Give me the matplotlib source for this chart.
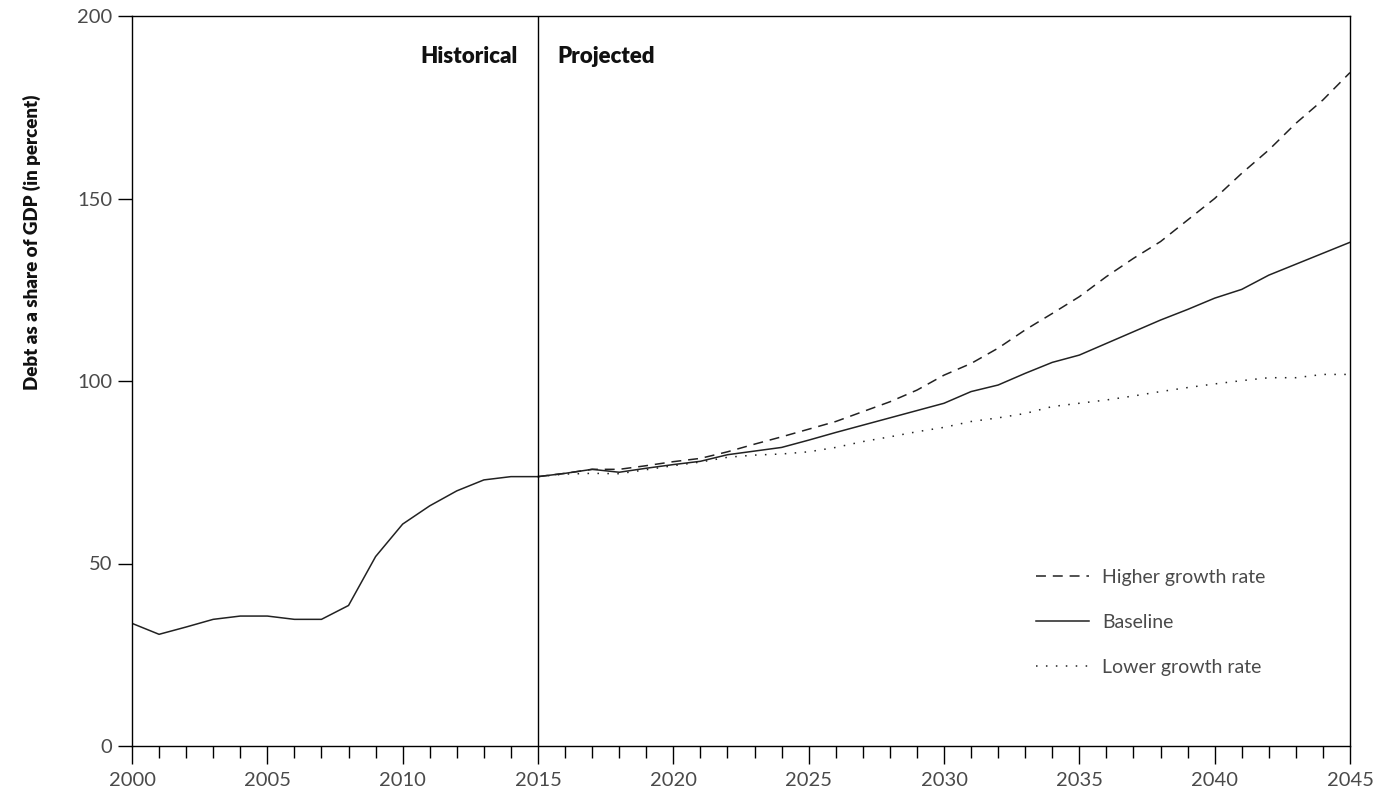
import matplotlib
matplotlib.use("Agg")
import matplotlib.pyplot as plt
from matplotlib.ticker import MultipleLocator

plt.rcParams['font.family'] = ['Lato', 'DejaVu Sans']

hist_years = list(range(2000, 2016))
hist_debt = [33.6, 30.6, 32.6, 34.7, 35.6, 35.6, 34.7, 34.7, 38.5, 51.9,
             60.8, 65.8, 69.9, 72.9, 73.8, 73.8]

proj_years = list(range(2015, 2046))
higher = [73.8, 74.7, 75.8, 75.8, 76.8, 77.9, 78.8, 80.6, 82.7, 84.7,
          86.8, 88.9, 91.6, 94.3, 97.5, 101.6, 104.8, 109.0, 114.0, 118.5,
          123.1, 128.6, 133.6, 138.2, 144.1, 150.0, 156.9, 163.3, 170.6, 177.0,
          184.5]
baseline = [73.8, 74.7, 75.8, 75.0, 76.1, 77.1, 78.0, 79.8, 80.8, 81.8,
            83.8, 85.9, 87.9, 89.9, 91.9, 93.9, 97.1, 98.9, 102.1, 105.1,
            107.1, 110.3, 113.5, 116.7, 119.6, 122.7, 125.1, 129.0, 132.0, 135.0,
            138.0]
lower = [73.8, 74.5, 74.7, 74.6, 75.7, 76.8, 77.8, 79.1, 79.7, 80.0,
         80.6, 81.8, 83.4, 84.7, 86.1, 87.3, 88.9, 89.9, 91.1, 93.0,
         93.9, 94.8, 95.9, 97.1, 98.2, 99.2, 100.1, 100.9, 100.9, 101.8,
         101.8]

divider_year = 2015
y_ticks = [0, 50, 100, 150, 200]
x_ticks = [2000, 2005, 2010, 2015, 2020, 2025, 2030, 2035, 2040, 2045]

line_color = '#222222'
text_color = '#4a4a4a'
fig = plt.figure(figsize=(13.92, 7.99), dpi=100)
ax = fig.add_axes([132/1392, 1 - 746/799, (1350-132)/1392, (746-16)/799])

ax.plot(hist_years, hist_debt, color=line_color, lw=1.1)
ax.plot(proj_years, higher, color=line_color, lw=1.1, linestyle=(0, (6.5, 4.5)),
        label='Higher growth rate')
ax.plot(proj_years, baseline, color=line_color, lw=1.1, label='Baseline')
ax.plot(proj_years, lower, color=line_color, lw=1.1, linestyle=(0, (1, 5.5)),
        label='Lower growth rate')

ax.axvline(divider_year, color='black', lw=1.0)

ax.set_xlim(2000, 2045)
ax.set_ylim(0, 200)
ax.set_xticks(x_ticks)
ax.set_yticks(y_ticks)
ax.xaxis.set_minor_locator(MultipleLocator(1))

for s in ax.spines.values():
    s.set_color('black')
    s.set_linewidth(1.0)

ax.tick_params(axis='x', which='major', direction='out', length=13, width=1.0,
               labelsize=14.5, pad=6, colors='black', labelcolor=text_color)
ax.tick_params(axis='x', which='minor', direction='out', length=8.5, width=1.0,
               colors='black')
ax.tick_params(axis='y', which='major', direction='out', length=10, width=1.0,
               labelsize=14.5, pad=4, colors='black', labelcolor=text_color)

ax.set_ylabel('Debt as a share of GDP (in percent)', fontsize=13.5,
              fontweight='heavy', color='#111111', labelpad=28)
ax.yaxis.set_label_coords(-0.075, 0.69)

ax.text(2014.25, 188.8, 'Historical', ha='right', va='center', fontsize=16,
        fontweight='heavy', color='#111111')
ax.text(2015.7, 188.8, 'Projected', ha='left', va='center', fontsize=16,
        fontweight='heavy', color='#111111')

leg = ax.legend(loc='upper left', bbox_to_anchor=(0.728, 0.267), frameon=False,
                fontsize=14, handlelength=2.7, labelspacing=1.45, handletextpad=0.7)
for t in leg.get_texts():
    t.set_color(text_color)

fig.savefig('out.png', dpi=100)
